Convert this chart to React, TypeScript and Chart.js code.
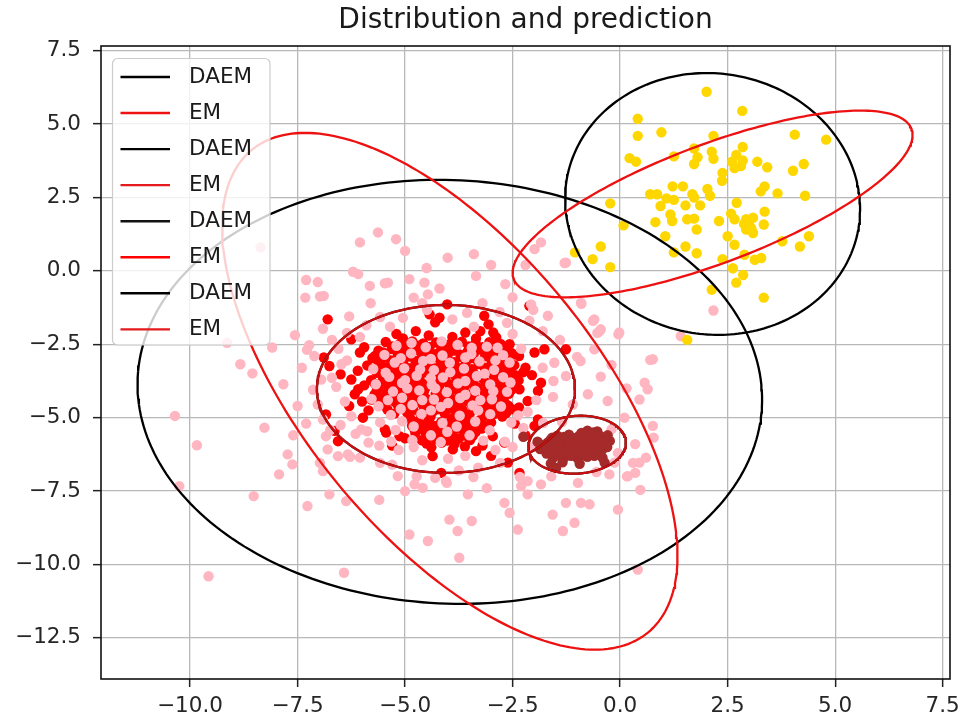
import React, { useEffect, useRef } from 'react';
import { Chart, registerables } from 'chart.js';

Chart.register(...registerables);

const titleText = 'Distribution and prediction';
const xTicks = [-10, -7.5, -5, -2.5, 0, 2.5, 5, 7.5];
const yTicks = [-12.5, -10, -7.5, -5, -2.5, 0, 2.5, 5, 7.5];
const xRange = [-12.07, 7.67];
const yRange = [-13.9, 7.66];

const legendLabels = ['DAEM', 'EM', 'DAEM', 'EM', 'DAEM', 'EM', 'DAEM', 'EM'];
const legendColors = ['#000000', '#ee1111', '#000000', '#e41a1c', '#111111', '#ff0000', '#000000', '#e41a1c'];

// ellipses: [centerX, centerY, semiMajor, semiMinor, angleDeg]
const daemEllipses = [
  [-3.96, -4.12, 7.37, 7.11, -40.6],
  [2.15, 2.28, 4.464, 3.423, 94.2],
  [-4.05, -4.02, 3.0, 2.86, 0],
  [-1.0, -5.92, 1.143, 0.977, 13.4],
];
const emEllipses = [
  [-3.96, -4.1, 9.557, 3.76, 115.1],
  [2.15, 2.28, 5.31, 1.88, 31.1],
  [-4.05, -4.02, 3.0, 2.86, 0],
  [-1.0, -5.92, 1.143, 0.977, 13.4],
];
const emColors = ['#ee1111', '#ee1111', 'rgba(215,15,15,0.93)', 'rgba(215,15,15,0.93)'];

const goldPoints = [
  [2.01, 6.1], [2.84, 5.45], [0.41, 5.18], [0.41, 4.6], [0.96, 4.72], [2.17, 4.6], [4.06, 4.64], [4.79, 4.47],
  [2.85, 4.22], [1.72, 4.17], [2.13, 4.06], [0.22, 3.84], [0.37, 3.72], [1.25, 3.9], [1.8, 3.87], [1.72, 3.64],
  [2.17, 3.82], [2.7, 3.95], [2.85, 3.76], [2.66, 3.5], [2.81, 3.57], [3.19, 3.72], [3.42, 3.53], [4.02, 3.41],
  [4.27, 3.64], [2.38, 3.34], [2.37, 3.07], [1.22, 2.88], [1.46, 2.88], [3.36, 2.88], [3.27, 2.71], [2.03, 2.79],
  [2.09, 2.56], [3.66, 2.64], [4.3, 2.56], [0.7, 2.61], [0.86, 2.61], [1.08, 2.47], [1.68, 2.61], [1.72, 2.5],
  [-0.23, 2.3], [0.94, 2.21], [1.25, 2.42], [1.52, 2.23], [1.86, 2.23], [2.71, 2.32], [0.08, 1.55], [0.82, 1.66],
  [1.17, 1.92], [1.21, 1.7], [1.56, 1.76], [1.72, 1.78], [1.78, 1.41], [2.3, 1.7], [2.58, 1.95], [2.66, 1.76],
  [2.93, 1.76], [3.09, 1.81], [3.36, 2.02], [3.34, 1.58], [2.93, 1.41], [3.09, 1.29], [3.01, 1.53], [1.05, 1.18],
  [2.5, 1.18], [2.66, 0.89], [3.77, 1.01], [4.18, 0.83], [4.39, 1.18], [-0.45, 0.83], [-1.05, 0.63], [-0.64, 0.4],
  [-0.23, 0.13], [1.25, 0.63], [1.52, 0.83], [1.78, 0.6], [2.38, 0.4], [2.89, 0.55], [3.13, 0.38], [3.28, 0.44],
  [2.62, 0.09], [2.86, -0.14], [2.7, -0.4], [2.13, -0.64], [3.34, -0.91], [1.56, -2.35],
  [2.98, 1.62], [3.05, 1.45], [2.88, 1.6], [2.6, 3.72],
];

const brownPoints = [
  [-0.76, -5.44], [-0.53, -5.47], [-1.46, -5.61], [-1.19, -5.58], [-0.96, -5.63], [-0.71, -5.59], [-0.47, -5.62],
  [-0.29, -5.6], [-1.62, -5.76], [-1.36, -5.73], [-1.09, -5.78], [-0.86, -5.74], [-0.61, -5.77], [-0.38, -5.73],
  [-0.24, -5.79], [-1.76, -5.92], [-1.49, -5.88], [-1.26, -5.93], [-1.01, -5.89], [-0.74, -5.92], [-0.51, -5.88],
  [-0.31, -5.93], [-1.86, -6.07], [-1.59, -6.03], [-1.36, -6.08], [-1.11, -6.04], [-0.84, -6.07], [-0.61, -6.03],
  [-0.41, -6.08], [-1.71, -6.22], [-1.44, -6.19], [-1.21, -6.23], [-0.96, -6.18], [-0.69, -6.22], [-0.46, -6.19],
  [-1.56, -6.37], [-1.29, -6.34], [-0.99, -6.38], [-0.76, -6.33], [-0.41, -6.36], [-1.61, -6.56], [-1.34, -6.52],
  [-0.94, -6.57], [-0.36, -6.53], [-1.49, -6.71], [-2.25, -5.65], [-1.92, -5.82],
  [-1.58, -5.68], [-1.31, -5.66], [-1.05, -5.7], [-0.82, -5.67], [-0.58, -5.69], [-0.35, -5.67], [-1.68, -5.84],
  [-1.42, -5.81], [-1.17, -5.85], [-0.9, -5.82], [-0.64, -5.85], [-0.42, -5.82], [-1.72, -5.99], [-1.47, -5.97],
  [-1.22, -6.0], [-0.97, -5.98], [-0.72, -6.0], [-0.5, -5.97], [-0.3, -6.0], [-1.62, -6.14], [-1.33, -6.12],
  [-1.08, -6.15], [-0.82, -6.12], [-0.57, -6.15], [-1.44, -6.28], [-1.14, -6.3], [-0.87, -6.27], [-0.6, -6.3],
  [-0.62, -5.5], [-0.9, -5.52],
];

const redPoints = [
  [-6.8, -1.65], [-6.25, -2.33], [-6.05, -2.78], [-5.7, -2.9], [-5.51, -2.78], [-4.43, -1.48], [-4.2, -1.59],
  [-4.02, -1.14], [-4.3, -1.75], [-3.16, -1.53], [-3.06, -1.82], [-3.25, -2.05], [-2.11, -1.19], [-2.88, -2.27],
  [-2.57, -2.5], [-4.75, -2.05], [-3.6, -2.1], [-5.05, -2.3], [-1.99, -2.78], [-1.76, -2.67], [-1.26, -2.67],
  [-1.84, -3.81], [-1.91, -4.09], [-2.34, -4.03], [-2.15, -4.43], [-1.99, -5.28], [-1.91, -5.06], [-2.2, -3.3],
  [-2.05, -3.55], [-2.69, -5.85], [-2.61, -6.53], [-2.34, -6.88], [-3.35, -6.14], [-3.89, -6.08], [-4.36, -6.31],
  [-4.16, -6.88], [-5.13, -5.63], [-5.44, -5.51], [-4.78, -5.4], [-4.47, -5.28], [-3.43, -5.63], [-2.96, -5.63],
  [-6.89, -2.95], [-6.76, -3.24], [-6.5, -3.52], [-6.09, -4.03], [-6.17, -4.2], [-5.78, -4.38], [-6.84, -4.89],
  [-6.56, -5.8], [-6.64, -5.45], [-5.39, -3.81], [-5.47, -5.4], [-5.98, -5.0],
  [-6.1, -3.4], [-5.95, -3.9], [-6.0, -4.45], [-6.25, -3.7], [-5.95, -2.6], [-5.85, -4.75], [-6.3, -4.6],
  [-5.2, -2.15], [-4.45, -2.2], [-3.9, -2.25], [-3.35, -2.3], [-2.95, -2.1], [-2.35, -2.9], [-2.25, -3.45],
  [-2.35, -4.65], [-2.45, -5.2], [-2.2, -5.6], [-5.0, -5.7], [-5.3, -5.95], [-3.2, -5.95], [-3.0, -6.3],
  [-5.45, -2.42], [-5.12, -2.48], [-4.83, -2.4], [-4.58, -2.47], [-4.28, -2.44], [-3.96, -2.5], [-3.68, -2.41],
  [-3.36, -2.46], [-3.04, -2.43], [-2.78, -2.49],
  [-5.3, -2.57], [-4.97, -2.6], [-4.7, -2.55], [-4.43, -2.59], [-4.12, -2.56], [-3.82, -2.61], [-3.52, -2.57],
  [-3.2, -2.6], [-2.91, -2.55],
  [-5.62, -2.72], [-5.31, -2.66], [-5.02, -2.74], [-4.74, -2.69], [-4.44, -2.73], [-4.16, -2.67], [-3.86, -2.71],
  [-3.55, -2.75], [-3.24, -2.68], [-2.94, -2.72], [-2.66, -2.7],
  [-5.47, -2.84], [-5.17, -2.81], [-4.88, -2.85], [-4.59, -2.8], [-4.3, -2.84], [-4.0, -2.82], [-3.7, -2.86],
  [-3.4, -2.81], [-3.09, -2.85], [-2.8, -2.83], [-2.52, -2.8],
  [-5.76, -2.97], [-5.46, -2.93], [-5.19, -2.98], [-4.91, -2.92], [-4.62, -2.96], [-4.31, -2.94], [-4.01, -2.99],
  [-3.71, -2.93], [-3.44, -2.97], [-3.14, -2.91], [-2.86, -2.96], [-2.56, -2.94],
  [-5.62, -3.09], [-5.33, -3.05], [-5.05, -3.1], [-4.76, -3.06], [-4.47, -3.1], [-4.16, -3.07], [-3.86, -3.11],
  [-3.57, -3.06], [-3.29, -3.1], [-2.99, -3.05], [-2.7, -3.09],
  [-5.88, -3.22], [-5.56, -3.18], [-5.29, -3.23], [-5.04, -3.17], [-4.76, -3.21], [-4.46, -3.19], [-4.19, -3.24],
  [-3.89, -3.18], [-3.61, -3.22], [-3.29, -3.17], [-3.01, -3.23], [-2.71, -3.19], [-2.46, -3.21],
  [-5.73, -3.34], [-5.43, -3.3], [-5.17, -3.35], [-4.9, -3.31], [-4.61, -3.35], [-4.32, -3.32], [-4.05, -3.36],
  [-3.75, -3.31], [-3.45, -3.35], [-3.15, -3.3], [-2.86, -3.34], [-2.6, -3.31],
  [-5.66, -3.47], [-5.39, -3.43], [-5.11, -3.48], [-4.84, -3.42], [-4.56, -3.46], [-4.24, -3.44], [-3.96, -3.49],
  [-3.69, -3.43], [-3.41, -3.47], [-3.09, -3.42], [-2.81, -3.46], [-2.54, -3.44],
  [-5.52, -3.59], [-5.25, -3.55], [-4.97, -3.6], [-4.7, -3.56], [-4.4, -3.6], [-4.1, -3.57], [-3.82, -3.61],
  [-3.55, -3.56], [-3.25, -3.6], [-2.95, -3.55], [-2.68, -3.59], [-2.42, -3.56],
  [-5.79, -3.72], [-5.51, -3.68], [-5.21, -3.73], [-4.94, -3.67], [-4.66, -3.71], [-4.34, -3.69], [-4.06, -3.74],
  [-3.79, -3.68], [-3.51, -3.72], [-3.19, -3.67], [-2.91, -3.71], [-2.64, -3.69], [-2.36, -3.73],
  [-5.7, -3.84], [-5.42, -3.8], [-5.13, -3.85], [-4.86, -3.81], [-4.58, -3.85], [-4.28, -3.82], [-3.98, -3.86],
  [-3.7, -3.81], [-3.41, -3.85], [-3.12, -3.8], [-2.84, -3.84], [-2.56, -3.81],
  [-5.61, -3.97], [-5.34, -3.93], [-5.06, -3.98], [-4.79, -3.92], [-4.51, -3.96], [-4.21, -3.94], [-3.91, -3.99],
  [-3.61, -3.93], [-3.31, -3.97], [-3.04, -3.92], [-2.76, -3.96], [-2.49, -3.94],
  [-5.66, -4.09], [-5.39, -4.05], [-5.11, -4.1], [-4.84, -4.06], [-4.56, -4.1], [-4.25, -4.07], [-3.96, -4.11],
  [-3.68, -4.06], [-3.39, -4.1], [-3.09, -4.05], [-2.81, -4.09], [-2.53, -4.06],
  [-5.71, -4.22], [-5.44, -4.18], [-5.16, -4.23], [-4.89, -4.17], [-4.61, -4.21], [-4.29, -4.19], [-4.01, -4.24],
  [-3.74, -4.18], [-3.46, -4.22], [-3.14, -4.17], [-2.86, -4.21], [-2.59, -4.19],
  [-5.62, -4.34], [-5.35, -4.3], [-5.06, -4.35], [-4.79, -4.31], [-4.51, -4.35], [-4.2, -4.32], [-3.92, -4.36],
  [-3.65, -4.31], [-3.35, -4.35], [-3.05, -4.3], [-2.78, -4.34],
  [-5.54, -4.47], [-5.26, -4.43], [-4.96, -4.48], [-4.69, -4.42], [-4.41, -4.46], [-4.11, -4.44], [-3.84, -4.49],
  [-3.56, -4.43], [-3.24, -4.47], [-2.96, -4.42], [-2.69, -4.46],
  [-5.48, -4.59], [-5.18, -4.55], [-4.88, -4.6], [-4.59, -4.56], [-4.32, -4.6], [-4.02, -4.57], [-3.75, -4.61],
  [-3.45, -4.56], [-3.15, -4.6], [-2.88, -4.55], [-2.6, -4.59],
  [-5.41, -4.72], [-5.09, -4.68], [-4.81, -4.73], [-4.49, -4.67], [-4.24, -4.71], [-3.94, -4.69], [-3.66, -4.74],
  [-3.34, -4.68], [-3.06, -4.72], [-2.79, -4.67], [-2.51, -4.71],
  [-5.25, -4.86], [-4.95, -4.83], [-4.64, -4.87], [-4.37, -4.82], [-4.08, -4.86], [-3.8, -4.84], [-3.5, -4.88],
  [-3.2, -4.83], [-2.92, -4.87], [-2.65, -4.84],
  [-4.88, -5.02], [-4.41, -4.97], [-3.91, -5.03], [-3.59, -4.98], [-3.21, -5.01], [-2.74, -4.96],
  [-4.72, -5.14], [-4.45, -5.1], [-4.16, -5.15], [-3.86, -5.11], [-3.57, -5.15], [-3.3, -5.12], [-3.0, -5.16],
  [-4.84, -5.27], [-4.59, -5.23], [-4.31, -5.28], [-4.01, -5.22], [-3.71, -5.26], [-3.44, -5.24], [-3.16, -5.29],
  [-4.62, -5.39], [-4.33, -5.35], [-4.05, -5.4], [-3.78, -5.36], [-3.5, -5.4], [-3.22, -5.37],
  [-4.76, -5.52], [-4.46, -5.48], [-4.19, -5.53], [-3.89, -5.47], [-3.64, -5.51], [-3.36, -5.49],
  [-4.52, -5.64], [-4.16, -5.6], [-3.88, -5.65], [-3.62, -5.61],
  [-4.61, -5.77], [-4.29, -5.73], [-4.01, -5.78], [-3.76, -5.72], [-3.49, -5.76],
  [-4.5, -5.88], [-4.15, -5.85], [-3.85, -5.9], [-4.39, -6.01], [-3.61, -5.98],
];

const pinkPoints = [
  // outer cloud, left
  [-5.63, 1.31], [-6.05, 0.97], [-8.36, 0.8], [-6.21, -0.03], [-6.09, -0.11], [-7.3, -0.31], [-7.03, -0.38],
  [-5.82, -0.51], [-5.47, -0.42], [-7.32, -0.91], [-6.89, -0.85], [-6.91, -1.97], [-7.56, -2.19], [-7.23, -2.53],
  [-8.09, -2.61], [-7.11, -2.9], [-8.83, -3.18], [-8.55, -3.49], [-7.83, -3.86], [-6.48, -3.18], [-6.7, -3.64],
  [-7.03, -4.55], [-6.91, -5.06], [-10.35, -4.94], [-8.27, -5.34], [-9.84, -5.94], [-7.73, -6.25], [-7.62, -6.59],
  [-7.93, -6.93], [-6.84, -5.63], [-6.8, -6.08], [-6.56, -6.31], [-6.33, -6.25], [-6.05, -6.36], [-6.91, -6.82],
  [-6.76, -7.61], [-6.37, -7.84], [-8.52, -7.67], [-7.27, -8.01], [-10.25, -7.33], [-9.57, -10.4], [-6.42, -10.28],
  [-6.02, -5.4], [-9.14, -2.45],
  // outer cloud, right
  [-5.21, 1.08], [-5.0, 0.68], [-4.01, 0.45], [-3.4, 0.57], [-3.35, -0.17], [-2.67, -0.45], [-1.84, 0.97],
  [-1.26, 0.28], [-1.99, 0.74], [-4.9, -0.28], [-4.55, -0.4], [-5.4, -0.4], [-4.8, -0.91], [-4.47, -0.8],
  [-2.07, -1.14], [-1.68, -1.53], [-2.11, -1.7], [-0.6, -1.65], [-0.45, -1.99], [-0.91, -1.08], [-0.02, -2.1],
  [-1.53, -3.13], [-0.92, -3.07], [-0.6, -2.67], [-1.26, -3.58], [-0.75, -4.2], [-0.29, -4.43], [0.76, -3.01],
  [0.57, -3.81], [0.64, -4.03], [0.45, -4.38], [0.76, -5.28], [0.78, -5.68], [0.18, -6.99], [0.35, -6.88],
  [0.45, -6.53], [-0.25, -6.93], [-0.98, -7.22], [-1.26, -7.9], [-2.3, -7.33], [-1.84, -7.27], [-2.15, -7.61],
  [-2.69, -7.9], [-2.57, -8.24], [-1.57, -8.3], [-0.91, -7.9], [-0.71, -7.95], [-0.05, -8.13], [-1.06, -8.58],
  [-1.33, -8.86], [-2.38, -8.81], [-3.45, -8.52], [-3.97, -8.47], [-3.78, -8.86], [-4.47, -9.2], [-4.9, -8.98],
  [-3.74, -9.77], [-5.17, -6.99], [-4.78, -7.27], [-4.59, -7.39], [-3.54, -7.61], [-4.05, -7.16], [-2.15, -7.16],
  [0.41, -10.17], [0.6, -6.36], [-0.13, -6.53], [-1.29, 0.27], [-0.9, -1.12], [-0.63, -1.7], [-0.47, -2.04],
  [-0.04, -2.16], [2.17, -1.35], [1.41, -2.22],
  // ring around the dense cluster
  [-6.98, -0.87], [-7.28, -2.69], [-7.14, -4.05], [-6.74, -5.42], [-6.98, -6.54], [-6.28, -6.33], [-5.58, -6.54],
  [-4.73, -7.0], [-4.03, -7.22], [-3.41, -7.02], [-2.79, -6.54], [-2.33, -7.02], [-2.02, -6.0], [-1.79, -5.18],
  [-1.56, -4.29], [-1.0, -2.93], [-0.53, -2.11], [0.7, -3.03], [0.3, -6.54], [0.16, -7.0], [0.47, -7.46],
  [-2.02, -1.33], [-2.63, -1.77], [-3.56, -1.43], [-4.49, -1.33], [-5.58, -1.57], [-6.35, -2.11],
  [-6.55, -2.65], [-6.35, -3.05], [-6.6, -3.95], [-6.4, -4.45], [-6.25, -4.95], [-6.5, -5.25], [-6.15, -5.55],
  [-5.85, -5.85], [-6.05, -2.25], [-6.7, -2.35], [-6.3, -1.55], [-5.9, -1.85], [-5.35, -1.9], [-6.95, -3.7],
  [-7.4, -3.3], [-7.5, -4.6], [-7.3, -5.2], [-7.6, -5.6],
  [-5.6, -5.95], [-5.15, -6.1], [-4.8, -6.0], [-4.6, -6.45], [-4.0, -6.4], [-3.6, -6.3], [-3.3, -6.7],
  [-2.9, -6.1], [-2.5, -6.0], [-3.75, -6.8], [-4.3, -7.05], [-5.3, -6.6], [-5.0, -7.5], [-3.1, -7.4], [-5.6, -7.8],
  [-2.25, -5.35], [-2.15, -4.8], [-1.95, -4.4], [-1.8, -3.3], [-2.3, -2.65], [-1.55, -3.75], [-1.4, -2.35],
  [-1.8, -2.05], [-2.5, -2.15], [-1.1, -4.55], [-1.35, -5.15], [-0.45, -3.6], [-0.2, -3.2], [0.15, -4.0],
  [0.1, -5.0], [-0.2, -5.4], [0.35, -5.9], [-0.05, -6.2], [-0.55, -6.85], [-1.6, -7.0],
  [-3.9, -1.65], [-3.4, -1.9], [-5.05, -1.6], [-2.8, -1.4], [-4.6, -1.1], [-3.2, -1.1], [-4.2, -0.6],
  [-2.5, -0.9], [-5.8, -1.1], [-3.0, 0.2], [-4.5, 0.1], [-2.2, 0.2],
  // inside the dense cluster
  [-5.2, -2.55], [-4.52, -2.6], [-3.78, -2.52], [-3.1, -2.58], [-5.48, -2.86], [-4.86, -2.81], [-4.13, -2.88],
  [-3.46, -2.83], [-2.72, -2.87], [-5.24, -3.12], [-4.58, -3.07], [-3.96, -3.13], [-3.27, -3.08], [-2.57, -3.12],
  [-5.74, -3.34], [-5.02, -3.32], [-4.33, -3.38], [-3.63, -3.33], [-2.93, -3.37], [-5.37, -3.61], [-4.73, -3.57],
  [-4.12, -3.63], [-3.33, -3.58], [-2.72, -3.62], [-5.68, -3.86], [-5.07, -3.82], [-4.38, -3.88], [-3.77, -3.83],
  [-3.02, -3.87], [-5.28, -4.11], [-4.67, -4.07], [-4.03, -4.13], [-3.37, -4.08], [-2.63, -4.12], [-5.78, -4.36],
  [-5.07, -4.32], [-4.33, -4.38], [-3.72, -4.33], [-2.98, -4.37], [-5.62, -4.61], [-4.83, -4.57], [-4.17, -4.63],
  [-3.43, -4.58], [-2.77, -4.62], [-5.33, -4.91], [-4.62, -4.87], [-3.73, -4.93], [-3.02, -4.88], [-2.37, -4.92],
  [-5.58, -5.16], [-5.07, -5.12], [-4.13, -5.18], [-3.37, -5.13], [-2.53, -5.17], [-5.88, -5.46], [-5.22, -5.42],
  [-4.02, -5.48], [-3.03, -5.43], [-5.32, -5.81], [-4.83, -5.77], [-4.17, -5.83], [-3.18, -5.78], [-2.68, -5.82],
  [-4.85, -2.45], [-4.15, -2.4], [-3.45, -2.62], [-2.85, -2.62], [-5.1, -2.97], [-4.4, -3.0], [-3.6, -2.95],
  [-2.9, -3.05], [-5.45, -3.47], [-4.65, -3.35], [-3.95, -3.45], [-3.15, -3.5], [-5.0, -3.72], [-4.4, -3.65],
  [-3.6, -3.75], [-2.55, -3.8], [-4.95, -4.0], [-4.3, -4.0], [-3.6, -4.22], [-2.95, -4.1], [-5.4, -4.4],
  [-4.6, -4.4], [-4.0, -4.5], [-3.25, -4.4], [-5.1, -4.7], [-4.4, -4.75], [-3.3, -4.75], [-4.8, -5.3],
  [-3.8, -5.3], [-4.4, -5.6], [-3.5, -5.6],
];

const ELLIPSE_STEPS = 240;
function ellipsePath(e: number[]) {
  const [cx, cy, a, b, deg] = e;
  const phi = (deg * Math.PI) / 180;
  const pts: { x: number; y: number }[] = [];
  for (let i = 0; i <= ELLIPSE_STEPS; i++) {
    const t = (i / ELLIPSE_STEPS) * 2 * Math.PI;
    pts.push({
      x: cx + a * Math.cos(t) * Math.cos(phi) - b * Math.sin(t) * Math.sin(phi),
      y: cy + a * Math.cos(t) * Math.sin(phi) + b * Math.sin(t) * Math.cos(phi),
    });
  }
  return pts;
}

const toXY = (arr: number[][]) => arr.map(([x, y]) => ({ x, y }));
const fmt = (v: number) => v.toFixed(1).replace('-', '\u2212');

const FONT = 'DejaVu Sans';

const frameAndLegend = {
  id: 'frameAndLegend',
  afterDatasetsDraw(chart: any) {
    const { ctx, chartArea } = chart;
    ctx.save();
    ctx.strokeStyle = '#111111';
    ctx.lineWidth = 1.6;
    ctx.strokeRect(chartArea.left, chartArea.top, chartArea.right - chartArea.left, chartArea.bottom - chartArea.top);
    const bx = chartArea.left + 11.5;
    const by = chartArea.top + 12.5;
    const bw = 157.5;
    const bh = 286.5;
    ctx.beginPath();
    if (ctx.roundRect) ctx.roundRect(bx, by, bw, bh, 5);
    else ctx.rect(bx, by, bw, bh);
    ctx.fillStyle = 'rgba(255,255,255,0.8)';
    ctx.fill();
    ctx.strokeStyle = '#cccccc';
    ctx.lineWidth = 1.2;
    ctx.stroke();
    ctx.font = `21.5px "${FONT}"`;
    ctx.textBaseline = 'middle';
    ctx.textAlign = 'left';
    legendLabels.forEach((lab, i) => {
      const y = by + 18.5 + i * 36.05;
      ctx.beginPath();
      ctx.moveTo(bx + 8, y);
      ctx.lineTo(bx + 57.5, y);
      ctx.strokeStyle = legendColors[i];
      ctx.lineWidth = 2.4;
      ctx.stroke();
      ctx.fillStyle = '#1a1a1a';
      ctx.fillText(lab, bx + 76.5, y + 0.5);
    });
    ctx.restore();
  },
};

export default function App() {
  const ref = useRef<HTMLCanvasElement | null>(null);

  useEffect(() => {
    if (!ref.current) return;
    const ellipseSets: any[] = [];
    for (let i = 0; i < 4; i++) {
      ellipseSets.push({
        label: legendLabels[i * 2],
        data: ellipsePath(daemEllipses[i]),
        showLine: true,
        borderColor: '#000000',
        borderWidth: 2.3,
        pointRadius: 0,
        fill: false,
        order: 1,
      });
      ellipseSets.push({
        label: legendLabels[i * 2 + 1],
        data: ellipsePath(emEllipses[i]),
        showLine: true,
        borderColor: emColors[i],
        borderWidth: 2.3,
        pointRadius: 0,
        fill: false,
        order: 0,
      });
    }
    const pointSet = (label: string, pts: number[][], color: string, order: number) => ({
      label,
      data: toXY(pts),
      backgroundColor: color,
      borderColor: color,
      borderWidth: 0,
      pointRadius: 5.2,
      pointHoverRadius: 5.2,
      showLine: false,
      order,
    });

    const chart = new Chart(ref.current, {
      type: 'scatter',
      data: {
        datasets: [
          ...ellipseSets,
          pointSet('gold', goldPoints, '#ffd700', 2),
          pointSet('brown', brownPoints, '#a52a2a', 3),
          pointSet('pink', pinkPoints, '#ffb6c1', 4),
          pointSet('red', redPoints, '#ff0000', 5),
        ],
      },
      options: {
        animation: false,
        responsive: false,
        devicePixelRatio: 1,
        layout: { padding: { left: 0, right: 11, top: 0, bottom: 0 } },
        plugins: {
          legend: { display: false },
          tooltip: { enabled: false },
          title: {
            display: true,
            fullSize: false,
            text: titleText,
            color: '#1a1a1a',
            font: { family: FONT, size: 28, weight: 'normal' },
            padding: { top: 4.4, bottom: 8 },
          },
        },
        scales: {
          x: {
            type: 'linear',
            min: xRange[0],
            max: xRange[1],
            afterBuildTicks: (s: any) => {
              s.ticks = xTicks.map((v) => ({ value: v }));
            },
            afterFit: (s: any) => {
              s.height = 42;
              s.paddingLeft = 0;
              s.paddingRight = 0;
            },
            border: { display: false },
            grid: { color: '#b8b8b8', lineWidth: 1.3, tickColor: '#222222', tickLength: 8, tickWidth: 1.5 },
            ticks: {
              padding: 7,
              color: '#262626',
              font: { family: FONT, size: 21.5 },
              maxRotation: 0,
              autoSkip: false,
              callback: (v: any) => fmt(Number(v)),
            },
          },
          y: {
            type: 'linear',
            min: yRange[0],
            max: yRange[1],
            afterBuildTicks: (s: any) => {
              s.ticks = yTicks.map((v) => ({ value: v }));
            },
            afterFit: (s: any) => {
              s.width = 101;
              s.paddingTop = 0;
              s.paddingBottom = 0;
            },
            border: { display: false },
            grid: { color: '#b8b8b8', lineWidth: 1.3, tickColor: '#222222', tickLength: 8, tickWidth: 1.5 },
            ticks: {
              padding: 12,
              color: '#262626',
              font: { family: FONT, size: 21.5 },
              autoSkip: false,
              callback: (v: any) => fmt(Number(v)),
            },
          },
        },
      },
      plugins: [frameAndLegend],
    } as any);
    return () => chart.destroy();
  }, []);

  return (
    <div style={{ position: 'absolute', left: 0, top: 0, width: 961, height: 721, background: '#ffffff' }}>
      <canvas ref={ref} width={961} height={721} style={{ display: 'block', width: 961, height: 721 }} />
    </div>
  );
}
